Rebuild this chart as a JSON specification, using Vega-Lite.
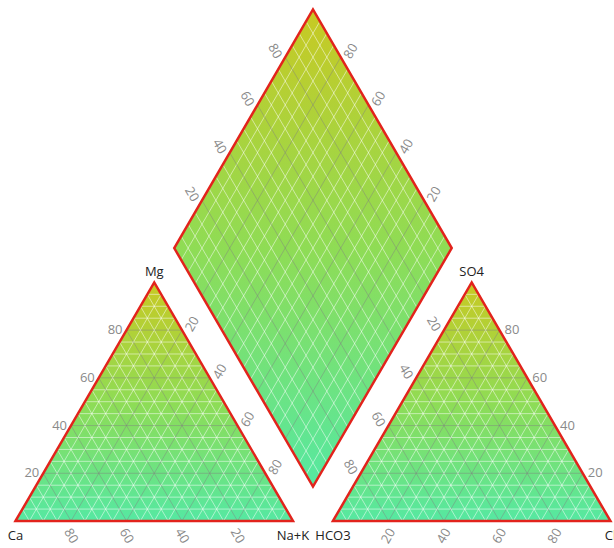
{
  "$schema": "https://vega.github.io/schema/vega-lite/v6.json",
  "width": 614,
  "height": 548,
  "padding": 0,
  "autosize": {"type": "none"},
  "background": "white",
  "config": {"view": {"stroke": null}, "font": "Open Sans"},
  "datasets": {
    "shapes": [
      {"s": "cation", "x": 0, "y": 0, "y2": 0},
      {"s": "cation", "x": 50, "y": 100, "y2": 0},
      {"s": "cation", "x": 100, "y": 0, "y2": 0},
      {"s": "anion", "x": 114.4, "y": 0, "y2": 0},
      {"s": "anion", "x": 164.4, "y": 100, "y2": 0},
      {"s": "anion", "x": 214.4, "y": 0, "y2": 0},
      {"s": "diamond", "x": 57.2, "y": 114.4, "y2": 114.4},
      {"s": "diamond", "x": 107.2, "y": 214.4, "y2": 14.4},
      {"s": "diamond", "x": 157.2, "y": 114.4, "y2": 114.4}
    ],
    "corners": [
      {"name": "Mg", "x": 50, "y": 100, "pos": "top"},
      {"name": "SO4", "x": 164.4, "y": 100, "pos": "top"},
      {"name": "Ca", "x": 0, "y": 0, "pos": "bottom"},
      {"name": "Na+K", "x": 100, "y": 0, "pos": "bottom"},
      {"name": "HCO3", "x": 114.4, "y": 0, "pos": "bottom"},
      {"name": "Cl", "x": 214.4, "y": 0, "pos": "bottom"}
    ],
    "grid": [
      {"f":"mg","k":5,"x":2.5,"y":5,"x2":97.5,"y2":5},
      {"f":"mg","k":10,"x":5,"y":10,"x2":95,"y2":10},
      {"f":"mg","k":15,"x":7.5,"y":15,"x2":92.5,"y2":15},
      {"f":"mg","k":20,"x":10,"y":20,"x2":90,"y2":20},
      {"f":"mg","k":25,"x":12.5,"y":25,"x2":87.5,"y2":25},
      {"f":"mg","k":30,"x":15,"y":30,"x2":85,"y2":30},
      {"f":"mg","k":35,"x":17.5,"y":35,"x2":82.5,"y2":35},
      {"f":"mg","k":40,"x":20,"y":40,"x2":80,"y2":40},
      {"f":"mg","k":45,"x":22.5,"y":45,"x2":77.5,"y2":45},
      {"f":"mg","k":50,"x":25,"y":50,"x2":75,"y2":50},
      {"f":"mg","k":55,"x":27.5,"y":55,"x2":72.5,"y2":55},
      {"f":"mg","k":60,"x":30,"y":60,"x2":70,"y2":60},
      {"f":"mg","k":65,"x":32.5,"y":65,"x2":67.5,"y2":65},
      {"f":"mg","k":70,"x":35,"y":70,"x2":65,"y2":70},
      {"f":"mg","k":75,"x":37.5,"y":75,"x2":62.5,"y2":75},
      {"f":"mg","k":80,"x":40,"y":80,"x2":60,"y2":80},
      {"f":"mg","k":85,"x":42.5,"y":85,"x2":57.5,"y2":85},
      {"f":"mg","k":90,"x":45,"y":90,"x2":55,"y2":90},
      {"f":"mg","k":95,"x":47.5,"y":95,"x2":52.5,"y2":95},

      {"f":"na","k":5,"x":5,"y":0,"x2":52.5,"y2":95},
      {"f":"na","k":10,"x":10,"y":0,"x2":55,"y2":90},
      {"f":"na","k":15,"x":15,"y":0,"x2":57.5,"y2":85},
      {"f":"na","k":20,"x":20,"y":0,"x2":60,"y2":80},
      {"f":"na","k":25,"x":25,"y":0,"x2":62.5,"y2":75},
      {"f":"na","k":30,"x":30,"y":0,"x2":65,"y2":70},
      {"f":"na","k":35,"x":35,"y":0,"x2":67.5,"y2":65},
      {"f":"na","k":40,"x":40,"y":0,"x2":70,"y2":60},
      {"f":"na","k":45,"x":45,"y":0,"x2":72.5,"y2":55},
      {"f":"na","k":50,"x":50,"y":0,"x2":75,"y2":50},
      {"f":"na","k":55,"x":55,"y":0,"x2":77.5,"y2":45},
      {"f":"na","k":60,"x":60,"y":0,"x2":80,"y2":40},
      {"f":"na","k":65,"x":65,"y":0,"x2":82.5,"y2":35},
      {"f":"na","k":70,"x":70,"y":0,"x2":85,"y2":30},
      {"f":"na","k":75,"x":75,"y":0,"x2":87.5,"y2":25},
      {"f":"na","k":80,"x":80,"y":0,"x2":90,"y2":20},
      {"f":"na","k":85,"x":85,"y":0,"x2":92.5,"y2":15},
      {"f":"na","k":90,"x":90,"y":0,"x2":95,"y2":10},
      {"f":"na","k":95,"x":95,"y":0,"x2":97.5,"y2":5},

      {"f":"ca","k":5,"x":95,"y":0,"x2":47.5,"y2":95},
      {"f":"ca","k":10,"x":90,"y":0,"x2":45,"y2":90},
      {"f":"ca","k":15,"x":85,"y":0,"x2":42.5,"y2":85},
      {"f":"ca","k":20,"x":80,"y":0,"x2":40,"y2":80},
      {"f":"ca","k":25,"x":75,"y":0,"x2":37.5,"y2":75},
      {"f":"ca","k":30,"x":70,"y":0,"x2":35,"y2":70},
      {"f":"ca","k":35,"x":65,"y":0,"x2":32.5,"y2":65},
      {"f":"ca","k":40,"x":60,"y":0,"x2":30,"y2":60},
      {"f":"ca","k":45,"x":55,"y":0,"x2":27.5,"y2":55},
      {"f":"ca","k":50,"x":50,"y":0,"x2":25,"y2":50},
      {"f":"ca","k":55,"x":45,"y":0,"x2":22.5,"y2":45},
      {"f":"ca","k":60,"x":40,"y":0,"x2":20,"y2":40},
      {"f":"ca","k":65,"x":35,"y":0,"x2":17.5,"y2":35},
      {"f":"ca","k":70,"x":30,"y":0,"x2":15,"y2":30},
      {"f":"ca","k":75,"x":25,"y":0,"x2":12.5,"y2":25},
      {"f":"ca","k":80,"x":20,"y":0,"x2":10,"y2":20},
      {"f":"ca","k":85,"x":15,"y":0,"x2":7.5,"y2":15},
      {"f":"ca","k":90,"x":10,"y":0,"x2":5,"y2":10},
      {"f":"ca","k":95,"x":5,"y":0,"x2":2.5,"y2":5},

      {"f":"so4","k":5,"x":116.9,"y":5,"x2":211.9,"y2":5},
      {"f":"so4","k":10,"x":119.4,"y":10,"x2":209.4,"y2":10},
      {"f":"so4","k":15,"x":121.9,"y":15,"x2":206.9,"y2":15},
      {"f":"so4","k":20,"x":124.4,"y":20,"x2":204.4,"y2":20},
      {"f":"so4","k":25,"x":126.9,"y":25,"x2":201.9,"y2":25},
      {"f":"so4","k":30,"x":129.4,"y":30,"x2":199.4,"y2":30},
      {"f":"so4","k":35,"x":131.9,"y":35,"x2":196.9,"y2":35},
      {"f":"so4","k":40,"x":134.4,"y":40,"x2":194.4,"y2":40},
      {"f":"so4","k":45,"x":136.9,"y":45,"x2":191.9,"y2":45},
      {"f":"so4","k":50,"x":139.4,"y":50,"x2":189.4,"y2":50},
      {"f":"so4","k":55,"x":141.9,"y":55,"x2":186.9,"y2":55},
      {"f":"so4","k":60,"x":144.4,"y":60,"x2":184.4,"y2":60},
      {"f":"so4","k":65,"x":146.9,"y":65,"x2":181.9,"y2":65},
      {"f":"so4","k":70,"x":149.4,"y":70,"x2":179.4,"y2":70},
      {"f":"so4","k":75,"x":151.9,"y":75,"x2":176.9,"y2":75},
      {"f":"so4","k":80,"x":154.4,"y":80,"x2":174.4,"y2":80},
      {"f":"so4","k":85,"x":156.9,"y":85,"x2":171.9,"y2":85},
      {"f":"so4","k":90,"x":159.4,"y":90,"x2":169.4,"y2":90},
      {"f":"so4","k":95,"x":161.9,"y":95,"x2":166.9,"y2":95},

      {"f":"cl","k":5,"x":119.4,"y":0,"x2":166.9,"y2":95},
      {"f":"cl","k":10,"x":124.4,"y":0,"x2":169.4,"y2":90},
      {"f":"cl","k":15,"x":129.4,"y":0,"x2":171.9,"y2":85},
      {"f":"cl","k":20,"x":134.4,"y":0,"x2":174.4,"y2":80},
      {"f":"cl","k":25,"x":139.4,"y":0,"x2":176.9,"y2":75},
      {"f":"cl","k":30,"x":144.4,"y":0,"x2":179.4,"y2":70},
      {"f":"cl","k":35,"x":149.4,"y":0,"x2":181.9,"y2":65},
      {"f":"cl","k":40,"x":154.4,"y":0,"x2":184.4,"y2":60},
      {"f":"cl","k":45,"x":159.4,"y":0,"x2":186.9,"y2":55},
      {"f":"cl","k":50,"x":164.4,"y":0,"x2":189.4,"y2":50},
      {"f":"cl","k":55,"x":169.4,"y":0,"x2":191.9,"y2":45},
      {"f":"cl","k":60,"x":174.4,"y":0,"x2":194.4,"y2":40},
      {"f":"cl","k":65,"x":179.4,"y":0,"x2":196.9,"y2":35},
      {"f":"cl","k":70,"x":184.4,"y":0,"x2":199.4,"y2":30},
      {"f":"cl","k":75,"x":189.4,"y":0,"x2":201.9,"y2":25},
      {"f":"cl","k":80,"x":194.4,"y":0,"x2":204.4,"y2":20},
      {"f":"cl","k":85,"x":199.4,"y":0,"x2":206.9,"y2":15},
      {"f":"cl","k":90,"x":204.4,"y":0,"x2":209.4,"y2":10},
      {"f":"cl","k":95,"x":209.4,"y":0,"x2":211.9,"y2":5},

      {"f":"hco3","k":5,"x":209.4,"y":0,"x2":161.9,"y2":95},
      {"f":"hco3","k":10,"x":204.4,"y":0,"x2":159.4,"y2":90},
      {"f":"hco3","k":15,"x":199.4,"y":0,"x2":156.9,"y2":85},
      {"f":"hco3","k":20,"x":194.4,"y":0,"x2":154.4,"y2":80},
      {"f":"hco3","k":25,"x":189.4,"y":0,"x2":151.9,"y2":75},
      {"f":"hco3","k":30,"x":184.4,"y":0,"x2":149.4,"y2":70},
      {"f":"hco3","k":35,"x":179.4,"y":0,"x2":146.9,"y2":65},
      {"f":"hco3","k":40,"x":174.4,"y":0,"x2":144.4,"y2":60},
      {"f":"hco3","k":45,"x":169.4,"y":0,"x2":141.9,"y2":55},
      {"f":"hco3","k":50,"x":164.4,"y":0,"x2":139.4,"y2":50},
      {"f":"hco3","k":55,"x":159.4,"y":0,"x2":136.9,"y2":45},
      {"f":"hco3","k":60,"x":154.4,"y":0,"x2":134.4,"y2":40},
      {"f":"hco3","k":65,"x":149.4,"y":0,"x2":131.9,"y2":35},
      {"f":"hco3","k":70,"x":144.4,"y":0,"x2":129.4,"y2":30},
      {"f":"hco3","k":75,"x":139.4,"y":0,"x2":126.9,"y2":25},
      {"f":"hco3","k":80,"x":134.4,"y":0,"x2":124.4,"y2":20},
      {"f":"hco3","k":85,"x":129.4,"y":0,"x2":121.9,"y2":15},
      {"f":"hco3","k":90,"x":124.4,"y":0,"x2":119.4,"y2":10},
      {"f":"hco3","k":95,"x":119.4,"y":0,"x2":116.9,"y2":5},

      {"f":"d1","k":5,"x":109.7,"y":19.4,"x2":59.7,"y2":119.4},
      {"f":"d1","k":10,"x":112.2,"y":24.4,"x2":62.2,"y2":124.4},
      {"f":"d1","k":15,"x":114.7,"y":29.4,"x2":64.7,"y2":129.4},
      {"f":"d1","k":20,"x":117.2,"y":34.4,"x2":67.2,"y2":134.4},
      {"f":"d1","k":25,"x":119.7,"y":39.4,"x2":69.7,"y2":139.4},
      {"f":"d1","k":30,"x":122.2,"y":44.4,"x2":72.2,"y2":144.4},
      {"f":"d1","k":35,"x":124.7,"y":49.4,"x2":74.7,"y2":149.4},
      {"f":"d1","k":40,"x":127.2,"y":54.4,"x2":77.2,"y2":154.4},
      {"f":"d1","k":45,"x":129.7,"y":59.4,"x2":79.7,"y2":159.4},
      {"f":"d1","k":50,"x":132.2,"y":64.4,"x2":82.2,"y2":164.4},
      {"f":"d1","k":55,"x":134.7,"y":69.4,"x2":84.7,"y2":169.4},
      {"f":"d1","k":60,"x":137.2,"y":74.4,"x2":87.2,"y2":174.4},
      {"f":"d1","k":65,"x":139.7,"y":79.4,"x2":89.7,"y2":179.4},
      {"f":"d1","k":70,"x":142.2,"y":84.4,"x2":92.2,"y2":184.4},
      {"f":"d1","k":75,"x":144.7,"y":89.4,"x2":94.7,"y2":189.4},
      {"f":"d1","k":80,"x":147.2,"y":94.4,"x2":97.2,"y2":194.4},
      {"f":"d1","k":85,"x":149.7,"y":99.4,"x2":99.7,"y2":199.4},
      {"f":"d1","k":90,"x":152.2,"y":104.4,"x2":102.2,"y2":204.4},
      {"f":"d1","k":95,"x":154.7,"y":109.4,"x2":104.7,"y2":209.4},

      {"f":"d2","k":5,"x":104.7,"y":19.4,"x2":154.7,"y2":119.4},
      {"f":"d2","k":10,"x":102.2,"y":24.4,"x2":152.2,"y2":124.4},
      {"f":"d2","k":15,"x":99.7,"y":29.4,"x2":149.7,"y2":129.4},
      {"f":"d2","k":20,"x":97.2,"y":34.4,"x2":147.2,"y2":134.4},
      {"f":"d2","k":25,"x":94.7,"y":39.4,"x2":144.7,"y2":139.4},
      {"f":"d2","k":30,"x":92.2,"y":44.4,"x2":142.2,"y2":144.4},
      {"f":"d2","k":35,"x":89.7,"y":49.4,"x2":139.7,"y2":149.4},
      {"f":"d2","k":40,"x":87.2,"y":54.4,"x2":137.2,"y2":154.4},
      {"f":"d2","k":45,"x":84.7,"y":59.4,"x2":134.7,"y2":159.4},
      {"f":"d2","k":50,"x":82.2,"y":64.4,"x2":132.2,"y2":164.4},
      {"f":"d2","k":55,"x":79.7,"y":69.4,"x2":129.7,"y2":169.4},
      {"f":"d2","k":60,"x":77.2,"y":74.4,"x2":127.2,"y2":174.4},
      {"f":"d2","k":65,"x":74.7,"y":79.4,"x2":124.7,"y2":179.4},
      {"f":"d2","k":70,"x":72.2,"y":84.4,"x2":122.2,"y2":184.4},
      {"f":"d2","k":75,"x":69.7,"y":89.4,"x2":119.7,"y2":189.4},
      {"f":"d2","k":80,"x":67.2,"y":94.4,"x2":117.2,"y2":194.4},
      {"f":"d2","k":85,"x":64.7,"y":99.4,"x2":114.7,"y2":199.4},
      {"f":"d2","k":90,"x":62.2,"y":104.4,"x2":112.2,"y2":204.4},
      {"f":"d2","k":95,"x":59.7,"y":109.4,"x2":109.7,"y2":209.4}
    ]
  },
  "layer": [
    {
      "data": {"name": "shapes"},
      "mark": {
        "type": "area",
        "fill": {
          "gradient": "linear", "x1": 0, "y1": 0, "x2": 0, "y2": 1,
          "stops": [
            {"offset": 0, "color": "#c8c923"},
            {"offset": 0.5, "color": "#8fdc55"},
            {"offset": 1, "color": "#55e8a2"}
          ]
        }
      },
      "encoding": {
        "x": {"field": "x", "type": "quantitative", "axis": null, "scale": {"domain": [-5.59, 215.68], "nice": false, "zero": false}},
        "y": {"field": "y", "type": "quantitative", "axis": null, "scale": {"domain": [-11.32, 218.37], "nice": false, "zero": false}},
        "y2": {"field": "y2"},
        "detail": {"field": "s"}
      }
    },
    {
      "data": {"name": "grid"},
      "transform": [{"filter": "datum.k % 20 !== 0"}],
      "mark": {"type": "rule", "color": "white", "opacity": 0.5, "strokeWidth": 1},
      "encoding": {
        "x": {"field": "x", "type": "quantitative", "axis": null, "scale": {"domain": [-5.59, 215.68], "nice": false, "zero": false}},
        "y": {"field": "y", "type": "quantitative", "axis": null, "scale": {"domain": [-11.32, 218.37], "nice": false, "zero": false}},
        "x2": {"field": "x2"},
        "y2": {"field": "y2"}
      }
    },
    {
      "data": {"name": "grid"},
      "transform": [{"filter": "datum.k % 20 === 0"}],
      "mark": {"type": "rule", "color": "#808080", "opacity": 0.45, "strokeWidth": 1},
      "encoding": {
        "x": {"field": "x", "type": "quantitative", "axis": null, "scale": {"domain": [-5.59, 215.68], "nice": false, "zero": false}},
        "y": {"field": "y", "type": "quantitative", "axis": null, "scale": {"domain": [-11.32, 218.37], "nice": false, "zero": false}},
        "x2": {"field": "x2"},
        "y2": {"field": "y2"}
      }
    },
    {
      "data": {"name": "shapes"},
      "mark": {"type": "area", "fillOpacity": 0, "stroke": "#e2231c", "strokeWidth": 2.5, "strokeJoin": "miter"},
      "encoding": {
        "x": {"field": "x", "type": "quantitative", "axis": null, "scale": {"domain": [-5.59, 215.68], "nice": false, "zero": false}},
        "y": {"field": "y", "type": "quantitative", "axis": null, "scale": {"domain": [-11.32, 218.37], "nice": false, "zero": false}},
        "y2": {"field": "y2"},
        "detail": {"field": "s"}
      }
    },
    {
      "data": {"name": "grid"},
      "transform": [{"filter": "datum.f === 'mg' && datum.k % 20 === 0"}],
      "mark": {"type": "text", "align": "right", "baseline": "middle", "dx": -4, "fontSize": 13, "color": "#8a8a8a"},
      "encoding": {
        "x": {"field": "x", "type": "quantitative", "axis": null, "scale": {"domain": [-5.59, 215.68], "nice": false, "zero": false}},
        "y": {"field": "y", "type": "quantitative", "axis": null, "scale": {"domain": [-11.32, 218.37], "nice": false, "zero": false}},
        "text": {"field": "k"}
      }
    },
    {
      "data": {"name": "grid"},
      "transform": [{"filter": "datum.f === 'so4' && datum.k % 20 === 0"}],
      "mark": {"type": "text", "align": "left", "baseline": "middle", "dx": 5, "fontSize": 13, "color": "#8a8a8a"},
      "encoding": {
        "x": {"field": "x2", "type": "quantitative", "axis": null, "scale": {"domain": [-5.59, 215.68], "nice": false, "zero": false}},
        "y": {"field": "y2", "type": "quantitative", "axis": null, "scale": {"domain": [-11.32, 218.37], "nice": false, "zero": false}},
        "text": {"field": "k"}
      }
    },
    {
      "data": {"name": "grid"},
      "transform": [{"filter": "datum.f === 'ca' && datum.k % 20 === 0"}],
      "mark": {"type": "text", "align": "center", "baseline": "middle", "angle": 60, "radius": 15, "theta": 3.1416, "fontSize": 13, "color": "#8a8a8a"},
      "encoding": {
        "x": {"field": "x", "type": "quantitative", "axis": null, "scale": {"domain": [-5.59, 215.68], "nice": false, "zero": false}},
        "y": {"field": "y", "type": "quantitative", "axis": null, "scale": {"domain": [-11.32, 218.37], "nice": false, "zero": false}},
        "text": {"field": "k"}
      }
    },
    {
      "data": {"name": "grid"},
      "transform": [{"filter": "datum.f === 'cl' && datum.k % 20 === 0"}],
      "mark": {"type": "text", "align": "center", "baseline": "middle", "angle": 300, "radius": 15, "theta": 3.1416, "fontSize": 13, "color": "#8a8a8a"},
      "encoding": {
        "x": {"field": "x", "type": "quantitative", "axis": null, "scale": {"domain": [-5.59, 215.68], "nice": false, "zero": false}},
        "y": {"field": "y", "type": "quantitative", "axis": null, "scale": {"domain": [-11.32, 218.37], "nice": false, "zero": false}},
        "text": {"field": "k"}
      }
    },
    {
      "data": {"name": "grid"},
      "transform": [{"filter": "(datum.f === 'na' || datum.f === 'd2') && datum.k % 20 === 0"}],
      "mark": {"type": "text", "align": "center", "baseline": "middle", "angle": 300, "radius": 12, "theta": 1.0472, "fontSize": 13, "color": "#8a8a8a"},
      "encoding": {
        "x": {"field": "x2", "type": "quantitative", "axis": null, "scale": {"domain": [-5.59, 215.68], "nice": false, "zero": false}},
        "y": {"field": "y2", "type": "quantitative", "axis": null, "scale": {"domain": [-11.32, 218.37], "nice": false, "zero": false}},
        "text": {"field": "k"}
      }
    },
    {
      "data": {"name": "grid"},
      "transform": [{"filter": "(datum.f === 'hco3' || datum.f === 'd1') && datum.k % 20 === 0"}],
      "mark": {"type": "text", "align": "center", "baseline": "middle", "angle": 60, "radius": 12, "theta": -1.0472, "fontSize": 13, "color": "#8a8a8a"},
      "encoding": {
        "x": {"field": "x2", "type": "quantitative", "axis": null, "scale": {"domain": [-5.59, 215.68], "nice": false, "zero": false}},
        "y": {"field": "y2", "type": "quantitative", "axis": null, "scale": {"domain": [-11.32, 218.37], "nice": false, "zero": false}},
        "text": {"field": "k"}
      }
    },
    {
      "data": {"name": "corners"},
      "transform": [{"filter": "datum.pos === 'top'"}],
      "mark": {"type": "text", "align": "center", "baseline": "bottom", "dy": -3, "fontSize": 13, "color": "#222222"},
      "encoding": {
        "x": {"field": "x", "type": "quantitative", "axis": null, "scale": {"domain": [-5.59, 215.68], "nice": false, "zero": false}},
        "y": {"field": "y", "type": "quantitative", "axis": null, "scale": {"domain": [-11.32, 218.37], "nice": false, "zero": false}},
        "text": {"field": "name"}
      }
    },
    {
      "data": {"name": "corners"},
      "transform": [{"filter": "datum.pos === 'bottom'"}],
      "mark": {"type": "text", "align": "center", "baseline": "middle", "dy": 15, "fontSize": 13, "color": "#222222"},
      "encoding": {
        "x": {"field": "x", "type": "quantitative", "axis": null, "scale": {"domain": [-5.59, 215.68], "nice": false, "zero": false}},
        "y": {"field": "y", "type": "quantitative", "axis": null, "scale": {"domain": [-11.32, 218.37], "nice": false, "zero": false}},
        "text": {"field": "name"}
      }
    }
  ]
}
